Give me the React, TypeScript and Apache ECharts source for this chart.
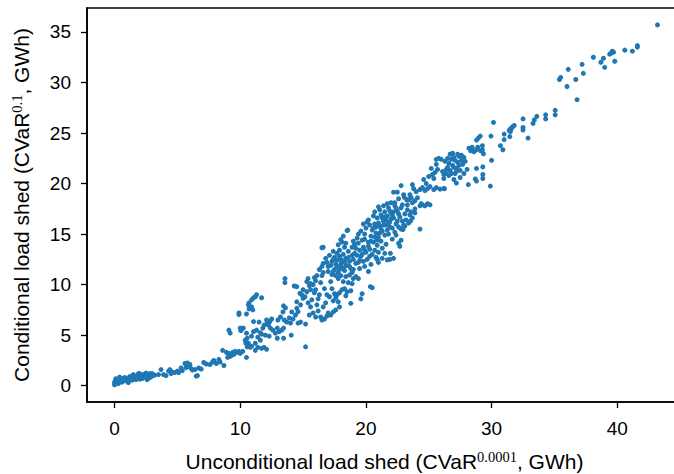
import React, { useEffect, useRef } from "react";
import * as echarts from "echarts";

// [unconditional CVaR^0.0001 (GWh), conditional CVaR^0.1 (GWh)]
const tailPoints: number[][] = [
  [0.0, 0.1], [0.0, 0.3], [0.05, 0.45], [0.1, 0.2], [0.15, 0.6], [0.2, 0.35], [0.3, 0.5], [0.3, 0.2],
  [0.4, 0.65], [0.4, 0.85], [0.5, 0.4], [0.6, 0.7], [0.6, 0.35], [0.7, 0.55], [0.8, 0.6], [0.9, 0.75],
  [0.9, 0.5], [1.0, 0.45], [1.1, 0.3], [1.2, 0.65], [1.2, 0.9], [1.3, 0.8], [1.4, 0.55], [1.5, 1.1],
  [1.5, 0.7], [1.6, 0.9], [1.7, 0.6], [1.8, 1.0], [1.9, 0.8], [1.9, 1.2], [2.0, 1.2], [2.1, 0.95],
  [2.2, 0.7], [2.2, 1.05], [2.3, 1.1], [2.4, 0.85], [2.5, 1.25], [2.6, 0.6], [2.6, 0.9], [2.7, 1.0],
  [2.8, 0.8], [2.8, 1.2], [2.9, 1.1], [3.0, 0.95], [3.2, 1.05], [3.5, 1.1], [3.7, 1.6], [3.9, 1.1],
  [4.1, 1.0], [4.3, 1.45], [4.4, 1.6], [4.5, 1.2], [4.6, 1.35], [4.8, 1.3], [5.0, 1.45], [5.1, 1.3],
  [5.3, 1.75], [5.4, 1.5], [5.6, 2.2], [5.7, 1.8], [5.8, 2.25], [5.9, 1.9], [6.0, 2.1], [6.1, 1.7],
  [6.2, 1.55], [6.4, 1.6], [6.5, 0.95], [6.6, 1.0], [6.7, 1.75], [6.9, 1.65], [7.1, 2.3], [7.3, 2.15],
  [7.6, 2.1], [7.8, 2.35], [7.9, 2.5], [8.1, 2.2], [8.3, 2.6], [8.4, 2.35],
  [0.1, 0.7], [0.5, 0.75], [0.8, 0.8], [1.1, 0.6], [1.4, 0.95], [1.7, 0.85], [2.0, 0.65], [2.3, 0.9],
  [2.5, 0.95], [3.0, 1.2],
];

const risePoints: number[][] = [
  [8.6, 3.5], [8.7, 2.0], [8.9, 3.3], [9.0, 2.8], [9.1, 3.2], [9.2, 2.9], [9.3, 3.0], [9.4, 3.3],
  [9.5, 3.1], [9.6, 3.4], [9.8, 3.3], [9.9, 3.4], [10.0, 3.2], [10.2, 3.4], [10.5, 2.8],
  [9.1, 5.5], [9.2, 5.2], [9.9, 7.2], [9.9, 7.05], [10.0, 5.7], [10.05, 5.45], [10.25, 5.7], [10.5, 5.2],
  [10.55, 4.7], [10.45, 4.2], [10.55, 3.85], [10.65, 4.2], [10.9, 4.9], [11.06, 5.35], [11.2, 4.2],
  [11.4, 3.8], [11.6, 4.5], [11.7, 3.7], [11.9, 3.8], [12.1, 3.6], [11.2, 3.5], [10.9, 3.9], [10.8, 3.8],
  [10.4, 4.5], [10.5, 7.1], [10.7, 8.2], [10.9, 8.5], [11.06, 8.7], [11.3, 9.0], [11.2, 8.8], [11.7, 8.7],
  [10.65, 8.0], [10.7, 7.6], [10.9, 7.8], [11.0, 7.5], [11.06, 6.35], [11.3, 5.5], [11.6, 5.25],
  [11.8, 5.7], [12.1, 6.5], [12.15, 6.2], [12.25, 6.0], [12.35, 6.35], [12.4, 5.7], [12.6, 5.5],
  [12.8, 5.2], [13.1, 5.35], [13.3, 5.5], [13.45, 5.7], [12.95, 5.7], [12.95, 4.7], [13.45, 4.7],
  [11.5, 6.3], [11.9, 6.0], [12.0, 5.0], [12.3, 4.9], [11.4, 4.8], [12.5, 6.6], [11.7, 5.1],
];

const midPoints: number[][] = [
  [13.5, 6.5], [13.7, 6.3], [13.9, 6.7], [14.0, 6.2], [14.2, 6.6], [14.4, 7.0], [14.6, 6.2], [14.8, 6.3],
  [15.2, 6.1], [14.06, 5.0], [13.45, 7.9], [14.5, 7.66], [14.6, 7.33], [14.8, 8.0], [14.5, 8.3],
  [15.0, 8.65], [15.15, 8.8], [14.3, 9.87], [14.5, 9.8], [15.2, 3.85], [13.56, 10.6], [13.56, 10.2],
  [13.2, 6.8], [13.0, 6.5], [13.4, 7.3], [13.6, 7.7], [14.1, 7.3], [14.9, 9.0], [15.3, 9.3], [15.5, 9.9],
  [15.6, 9.5], [15.8, 10.0], [15.4, 8.2], [15.6, 7.8], [15.7, 8.5], [15.9, 9.2], [16.0, 10.4],
  [15.8, 7.2], [15.5, 7.0], [16.1, 8.0], [16.2, 8.6], [16.3, 9.0], [16.0, 6.8], [16.2, 7.4], [16.4, 6.8],
  [16.5, 6.5], [16.7, 6.6], [16.9, 6.9], [17.0, 7.2], [17.2, 7.0], [17.4, 7.3], [16.6, 7.8], [16.8, 8.2],
  [16.4, 10.2], [16.5, 10.9], [16.6, 11.2], [16.3, 11.5], [16.1, 10.9], [16.0, 9.5], [15.9, 10.7],
  [15.4, 10.6], [15.3, 10.3], [15.6, 10.1], [14.75, 9.14], [15.0, 9.5], [16.7, 9.6], [16.9, 9.0],
  [17.1, 8.8], [16.6, 13.7], [16.5, 13.65], [16.9, 12.2], [17.0, 11.8], [16.8, 12.6], [16.6, 12.1],
  [16.5, 11.8], [17.2, 10.3], [17.3, 9.6], [17.5, 9.1], [17.6, 8.7], [17.4, 8.4], [17.8, 8.3],
  [17.9, 7.8], [17.6, 7.5], [17.3, 11.0], [17.1, 12.9], [17.4, 12.5], [17.4, 13.3], [17.0, 11.3],
];

const corePoints: number[][] = [
  [17.5, 11.5], [17.6, 12.0], [17.7, 12.4], [17.8, 11.2], [17.9, 12.8], [18.0, 11.7], [18.1, 12.2],
  [18.2, 13.0], [18.0, 12.5], [17.7, 11.8], [17.6, 10.9], [17.8, 10.6], [18.3, 11.4], [18.4, 12.6],
  [18.5, 11.9], [18.6, 13.3], [18.3, 13.7], [18.1, 14.2], [17.9, 13.4], [18.7, 12.3], [18.8, 11.6],
  [18.9, 12.9], [18.0, 14.45], [18.2, 14.8], [17.8, 13.95], [18.56, 15.4], [18.5, 15.35],
  [17.2, 11.9], [17.3, 12.3], [17.5, 12.7], [17.4, 11.3], [18.0, 10.9], [18.2, 10.3], [18.4, 10.8],
  [18.6, 10.2], [18.7, 10.95], [18.9, 10.1], [19.0, 10.6], [18.8, 9.4], [18.5, 9.3], [18.3, 9.6],
  [18.1, 9.5], [17.9, 9.2], [17.7, 9.0], [18.4, 8.9], [18.8, 8.15], [19.2, 10.8], [19.5, 11.6],
  [19.6, 8.6], [19.7, 9.1], [19.0, 12.5], [19.1, 13.1], [19.2, 13.6], [19.3, 12.9], [19.4, 14.1],
  [19.5, 13.4], [19.6, 12.8], [19.7, 14.4], [19.8, 13.7], [19.9, 15.0], [19.3, 14.6], [19.1, 14.0],
  [18.9, 13.7], [19.6, 15.3], [19.8, 12.3], [19.9, 11.8], [20.0, 13.2], [20.1, 12.5], [20.2, 14.2],
  [20.0, 15.6], [20.1, 16.2], [19.9, 14.5], [19.4, 12.2], [19.0, 11.5], [20.3, 13.5], [20.5, 9.7],
  [20.35, 9.8], [20.2, 11.3], [20.4, 12.0], [19.4, 10.6],
  [20.4, 14.8], [20.5, 15.4], [20.6, 14.2], [20.7, 16.0], [20.8, 15.1], [20.9, 16.6], [21.0, 14.7],
  [21.1, 15.8], [21.2, 16.9], [21.3, 15.3], [21.4, 16.3], [21.5, 17.2], [21.6, 15.9], [21.7, 16.8],
  [21.8, 17.6], [21.9, 16.2], [22.0, 17.1], [22.1, 15.6], [22.2, 16.6], [22.3, 17.8], [22.4, 16.0],
  [22.5, 17.3], [22.6, 15.7], [22.7, 16.7], [22.8, 17.6], [22.9, 16.3], [23.0, 15.9], [23.1, 17.0],
  [20.6, 16.8], [20.9, 13.9], [21.0, 13.2], [21.2, 14.3], [21.3, 13.6], [21.5, 14.9], [21.6, 14.0],
  [21.8, 15.0], [21.1, 17.4], [21.4, 17.8], [21.7, 18.0], [22.0, 18.1], [22.3, 18.1], [22.1, 14.5],
  [22.4, 14.9], [22.6, 14.1], [22.8, 14.4], [22.7, 13.8], [22.2, 12.6], [21.9, 12.5], [21.95, 13.1],
  [21.7, 12.45], [22.8, 15.5], [22.95, 15.45], [23.1, 15.8], [23.4, 16.1], [23.55, 16.3], [23.7, 16.6],
  [23.9, 17.1], [24.3, 15.5], [22.5, 19.15], [22.2, 19.15], [22.8, 19.8], [23.5, 16.9], [23.3, 17.4],
  [23.6, 17.2], [23.2, 16.4], [20.7, 13.4], [20.8, 12.7], [21.0, 12.2], [20.3, 15.9], [20.2, 16.4],
  [19.8, 16.0], [21.3, 12.6], [21.5, 13.1], [20.9, 12.5],
  [21.2, 15.5], [21.4, 15.9], [21.6, 16.4], [21.8, 16.1], [22.0, 16.5], [22.2, 17.2], [21.9, 17.3],
  [21.5, 16.7], [21.3, 16.6], [22.4, 17.6], [22.6, 17.0], [22.1, 16.9], [21.7, 15.4], [21.9, 15.7],
  [22.3, 15.2], [22.5, 16.3], [20.8, 15.7], [21.0, 16.1], [21.1, 15.1], [20.6, 15.6], [20.9, 14.4],
  [20.4, 14.3], [20.7, 14.7], [20.2, 13.8], [19.9, 13.4], [19.7, 13.0], [20.5, 13.0], [20.3, 12.8],
  [19.5, 12.4], [19.2, 12.1], [18.9, 11.2], [18.7, 11.8], [18.4, 11.9], [18.2, 11.6], [18.0, 12.0],
  [18.6, 12.7], [18.3, 12.3], [17.9, 11.5], [17.7, 13.1], [18.4, 14.1], [19.0, 14.3], [19.4, 15.0],
  [20.7, 17.2], [21.0, 17.7], [22.6, 18.5], [23.0, 18.9], [22.9, 17.9], [23.3, 17.9], [23.4, 18.4],
  [23.6, 18.6],
];

const upperPoints: number[][] = [
  [23.05, 18.65], [23.25, 18.4], [23.5, 18.9], [23.7, 19.9], [23.8, 19.5], [24.0, 19.2], [23.7, 18.1],
  [23.9, 18.3], [24.1, 18.6], [24.3, 17.8], [24.5, 17.9], [24.7, 17.8], [24.9, 18.0], [25.1, 17.9],
  [24.4, 18.0], [23.9, 17.5], [24.3, 19.4], [24.5, 19.6], [24.7, 19.3], [24.9, 19.5], [25.1, 19.7],
  [25.4, 19.4], [25.6, 19.6], [25.9, 19.45], [26.2, 19.5], [24.8, 20.0], [25.0, 20.7], [25.3, 20.9],
  [25.5, 21.1], [25.7, 21.4], [25.2, 21.5], [24.6, 20.4], [25.6, 22.4], [25.6, 21.9], [25.8, 22.5],
  [26.2, 20.5], [26.4, 21.0], [26.5, 21.6], [26.6, 22.0], [26.7, 21.3], [26.8, 22.4], [26.9, 21.8],
  [27.0, 22.6], [27.1, 21.0], [27.2, 21.5], [27.3, 22.1], [27.4, 22.7], [27.5, 21.3], [27.6, 22.3],
  [27.7, 21.9], [27.8, 22.6], [26.3, 22.2], [26.6, 20.8], [27.0, 20.4], [27.2, 20.05], [27.5, 20.6],
  [27.8, 21.0], [28.05, 21.4], [26.9, 23.0], [27.3, 22.9], [26.0, 22.4], [26.25, 19.5],
  [26.5, 22.5], [26.8, 21.0], [27.1, 22.3], [27.4, 21.8], [26.4, 21.4], [27.6, 22.8], [27.0, 21.6],
  [26.7, 22.9], [27.9, 22.2], [26.1, 21.2], [26.2, 20.9], [25.4, 20.5], [27.2, 21.2],
  [28.15, 19.9], [28.2, 23.5], [28.4, 23.4], [28.33, 23.25], [28.45, 23.6], [28.6, 23.15],
  [28.8, 23.35], [28.9, 23.6], [29.13, 23.25], [29.27, 23.75], [29.27, 23.35], [29.35, 22.95],
  [28.8, 21.5], [28.8, 20.25], [28.7, 20.45], [29.3, 21.65], [29.3, 20.9], [29.3, 20.5], [28.8, 24.3],
  [28.95, 24.5], [29.1, 24.7], [29.95, 24.7], [30.15, 26.05], [30.0, 22.3], [29.9, 19.75],
];

const topPoints: number[][] = [
  [30.7, 23.75], [30.9, 23.35], [31.0, 24.9], [31.0, 24.35], [31.45, 24.65], [31.5, 25.15],
  [31.4, 25.25], [31.5, 25.4], [31.6, 25.5], [31.7, 25.65], [31.8, 25.75], [32.5, 26.4], [32.5, 25.55],
  [32.5, 25.3], [32.9, 24.5], [33.3, 25.95], [33.4, 26.3], [33.6, 26.65], [34.3, 26.8], [34.3, 26.4],
  [35.06, 27.25], [35.06, 26.8], [35.4, 30.3], [35.5, 30.5], [36.0, 29.6], [36.1, 31.3], [36.7, 30.3],
  [36.8, 28.3], [37.2, 31.8], [37.3, 30.9], [38.1, 32.5], [38.7, 32.0], [38.9, 32.4], [39.0, 31.5],
  [39.4, 32.8], [39.5, 32.9], [39.6, 33.1], [39.7, 33.0], [39.8, 32.1], [40.6, 33.2], [41.2, 33.1],
  [41.6, 33.5], [41.6, 33.65], [43.2, 35.7],
];

const xTicks = [0, 10, 20, 30, 40];
const yTicks = [0, 5, 10, 15, 20, 25, 30, 35];

const SANS = "'Liberation Sans', Arial, Helvetica, sans-serif";
const SERIF = "'Liberation Serif', 'Times New Roman', serif";

export default function App() {
  const ref = useRef<HTMLDivElement>(null);
  useEffect(() => {
    document.body.style.margin = "0";
    const chart = echarts.init(ref.current as HTMLDivElement, null, { renderer: "svg" });
    const allPoints = [
      ...tailPoints,
      ...risePoints,
      ...midPoints,
      ...corePoints,
      ...upperPoints,
      ...topPoints,
    ];
    const nameRich = {
      a: { fontSize: 21, fontFamily: SANS, color: "#000", lineHeight: 25 },
      s: { fontSize: 14.5, fontFamily: SERIF, color: "#000", lineHeight: 15, verticalAlign: "top" },
    };
    chart.setOption({
      animation: false,
      backgroundColor: "#fff",
      grid: {
        left: 87,
        top: 8,
        width: 595,
        height: 394,
        show: true,
        borderColor: "#000",
        borderWidth: 1.6,
        backgroundColor: "transparent",
        outerBoundsMode: "none",
        containLabel: false,
      },
      xAxis: {
        type: "value",
        min: -2.19,
        max: 45.15,
        splitLine: { show: false },
        axisLine: { show: true, onZero: false, lineStyle: { color: "#000", width: 1.6 } },
        axisTick: { show: true, length: 6, customValues: xTicks, lineStyle: { color: "#000", width: 1.3 } },
        axisLabel: { customValues: xTicks, margin: 17, color: "#000", fontSize: 19, fontFamily: SANS },
        name: "{a|Unconditional load shed (CVaR}{s|0.0001}{a|, GWh)}",
        nameLocation: "middle",
        nameGap: 47,
        nameTextStyle: { rich: nameRich },
      },
      yAxis: {
        type: "value",
        min: -1.61,
        max: 37.37,
        splitLine: { show: false },
        axisLine: { show: true, onZero: false, lineStyle: { color: "#000", width: 1.6 } },
        axisTick: { show: true, length: 6, customValues: yTicks, lineStyle: { color: "#000", width: 1.3 } },
        axisLabel: { customValues: yTicks, margin: 16, color: "#000", fontSize: 19, fontFamily: SANS },
        name: "{a|Conditional load shed (CVaR}{s|0.1}{a|, GWh)}",
        nameLocation: "middle",
        nameRotate: 90,
        nameGap: 53,
        nameTextStyle: { rich: nameRich },
      },
      series: [
        {
          type: "scatter",
          data: allPoints,
          symbol: "circle",
          symbolSize: 5,
          itemStyle: { color: "#1f77b4", opacity: 1 },
          silent: true,
        },
      ],
    });
    return () => chart.dispose();
  }, []);
  return <div ref={ref} style={{ width: 674, height: 474 }} />;
}
